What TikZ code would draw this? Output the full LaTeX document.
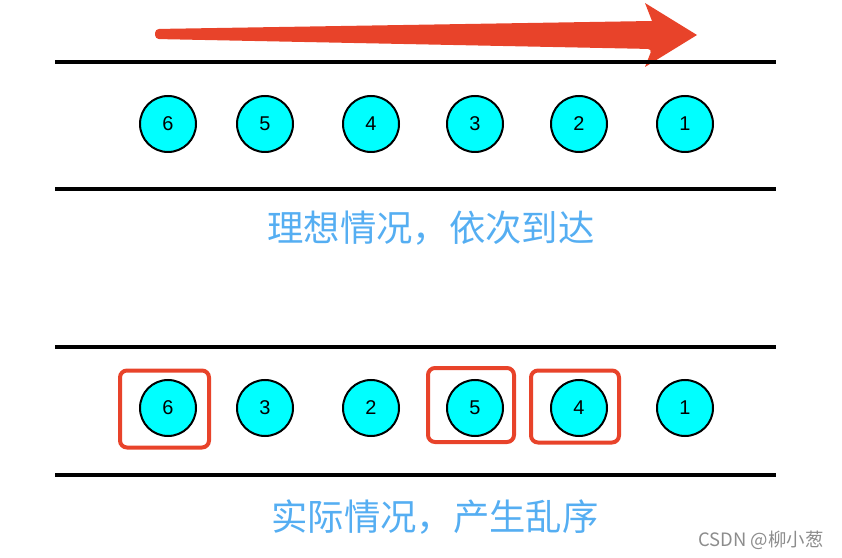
\documentclass[tikz,border=0pt]{standalone}
\usepackage{fontspec}
\setmainfont{Liberation Sans}
\newfontfamily\cjk{Noto Sans CJK SC}
\usetikzlibrary{positioning}
\definecolor{pktcyan}{HTML}{00FFFF}
\definecolor{markred}{HTML}{E8432A}
\definecolor{capblue}{HTML}{55AEF2}
\definecolor{wmgray}{HTML}{8C8C8C}

\begin{document}
\begin{tikzpicture}[
    x=1bp, y=-1bp,
    packet/.style={draw, line width=2bp, circle, fill=pktcyan,
                   minimum size=56bp, inner sep=0pt, font=\fontsize{20}{20}\selectfont},
    lane/.style={line width=4bp},
    markbox/.style={draw=markred, line width=4bp, rounded corners=7bp,
                    minimum height=77bp, inner sep=0pt},
    caption/.style={font=\cjk\fontsize{36.5}{36.5}\selectfont, text=capblue}
  ]
    \useasboundingbox (0,0) rectangle (842,558);

    % direction of travel
    \fill[markred, rounded corners=4bp] (155,29) -- (155,39) -- (652,49)
      [sharp corners] -- (645,67) -- (697,35) -- (645,3) -- (652,21)
      [rounded corners=4bp] -- cycle;

    % ideal lane
    \draw[lane] (55,62) -- (776,62);
    \draw[lane] (55,189) -- (776,189);
    \node[packet] (t6) at (168,124) {6};
    \node[packet] (t5) at (265,124) {5};
    \node[packet] (t4) at (371,124) {4};
    \node[packet] (t3) at (475,124) {3};
    \node[packet] (t2) at (579,124) {2};
    \node[packet] (t1) at (685,124) {1};
    \node[caption] (ideal) at (431,228) {理想情况，依次到达};

    % real lane
    \draw[lane] (55,347) -- (776,347);
    \draw[lane] (55,475) -- (776,475);
    \node[packet] (b6) at (168,408) {6};
    \node[packet] (b3) at (265,408) {3};
    \node[packet] (b2) at (371,408) {2};
    \node[packet] (b5) at (475,408) {5};
    \node[packet] (b4) at (579,408) {4};
    \node[packet] (b1) at (685,408) {1};
    \node[markbox, minimum width=89bp] (box6) at (164.5,409) {};
    \node[markbox, minimum width=86bp, minimum height=74bp] (box5) at (471,405) {};
    \node[markbox, minimum width=88bp, minimum height=72bp] (box4) at (575,406.5) {};
    \node[caption] (real) at (435,517) {实际情况，产生乱序};

    \node[font=\cjk\fontsize{18.5}{18.5}\selectfont, text=wmgray, anchor=east]
      (mark) at (827,540) {CSDN @柳小葱};
\end{tikzpicture}
\end{document}
